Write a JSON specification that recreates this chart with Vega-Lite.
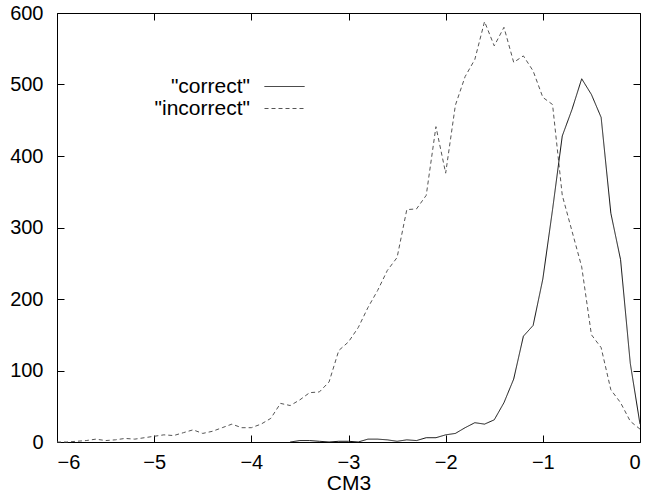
{
  "$schema": "https://vega.github.io/schema/vega-lite/v6.json",
  "width": 583,
  "height": 429,
  "autosize": "none",
  "padding": {"left": 57, "top": 13, "right": 5, "bottom": 55},
  "background": "white",
  "config": {
    "view": {"stroke": "black", "strokeWidth": 1},
    "font": "Liberation Sans",
    "axis": {"grid": false, "domain": false, "tickColor": "black", "tickSize": -7, "tickWidth": 1, "labelColor": "black", "labelFont": "Liberation Sans", "labelFontSize": 20, "titleFont": "Liberation Sans", "titleFontSize": 21, "titleFontWeight": "normal", "titleColor": "black"},
    "legend": {"orient": "none", "legendX": 217, "legendY": 63, "title": null, "symbolType": "M-4,0H4", "symbolSize": 100, "symbolStrokeWidth": 1, "rowPadding": 0, "labelAlign": "right", "labelOffset": -45, "labelFontSize": 21, "labelFont": "Liberation Sans", "labelColor": "black", "labelLimit": 0, "padding": 0}
  },
  "data": {
    "values": [
      {"x": -6.0, "n": 0, "s": "\"incorrect\""}, {"x": -5.9, "n": 0, "s": "\"incorrect\""}, {"x": -5.8, "n": 1, "s": "\"incorrect\""}, {"x": -5.7, "n": 2, "s": "\"incorrect\""}, {"x": -5.6, "n": 4, "s": "\"incorrect\""}, {"x": -5.5, "n": 2, "s": "\"incorrect\""}, {"x": -5.4, "n": 3, "s": "\"incorrect\""}, {"x": -5.3, "n": 5, "s": "\"incorrect\""}, {"x": -5.2, "n": 4, "s": "\"incorrect\""}, {"x": -5.1, "n": 6, "s": "\"incorrect\""},
      {"x": -5.0, "n": 8, "s": "\"incorrect\""}, {"x": -4.9, "n": 10, "s": "\"incorrect\""}, {"x": -4.8, "n": 9, "s": "\"incorrect\""}, {"x": -4.7, "n": 13, "s": "\"incorrect\""}, {"x": -4.6, "n": 17, "s": "\"incorrect\""}, {"x": -4.5, "n": 12, "s": "\"incorrect\""}, {"x": -4.4, "n": 15, "s": "\"incorrect\""}, {"x": -4.3, "n": 20, "s": "\"incorrect\""}, {"x": -4.2, "n": 25, "s": "\"incorrect\""}, {"x": -4.1, "n": 20, "s": "\"incorrect\""},
      {"x": -4.0, "n": 20, "s": "\"incorrect\""}, {"x": -3.9, "n": 25, "s": "\"incorrect\""}, {"x": -3.8, "n": 33, "s": "\"incorrect\""}, {"x": -3.7, "n": 54, "s": "\"incorrect\""}, {"x": -3.6, "n": 51, "s": "\"incorrect\""}, {"x": -3.5, "n": 59, "s": "\"incorrect\""}, {"x": -3.4, "n": 69, "s": "\"incorrect\""}, {"x": -3.3, "n": 70, "s": "\"incorrect\""}, {"x": -3.2, "n": 84, "s": "\"incorrect\""}, {"x": -3.1, "n": 128, "s": "\"incorrect\""},
      {"x": -3.0, "n": 140, "s": "\"incorrect\""}, {"x": -2.9, "n": 160, "s": "\"incorrect\""}, {"x": -2.8, "n": 188, "s": "\"incorrect\""}, {"x": -2.7, "n": 212, "s": "\"incorrect\""}, {"x": -2.6, "n": 240, "s": "\"incorrect\""}, {"x": -2.5, "n": 258, "s": "\"incorrect\""}, {"x": -2.4, "n": 325, "s": "\"incorrect\""}, {"x": -2.3, "n": 326, "s": "\"incorrect\""}, {"x": -2.2, "n": 345, "s": "\"incorrect\""}, {"x": -2.1, "n": 441, "s": "\"incorrect\""},
      {"x": -2.0, "n": 376, "s": "\"incorrect\""}, {"x": -1.9, "n": 471, "s": "\"incorrect\""}, {"x": -1.8, "n": 511, "s": "\"incorrect\""}, {"x": -1.7, "n": 535, "s": "\"incorrect\""}, {"x": -1.6, "n": 588, "s": "\"incorrect\""}, {"x": -1.5, "n": 554, "s": "\"incorrect\""}, {"x": -1.4, "n": 580, "s": "\"incorrect\""}, {"x": -1.3, "n": 531, "s": "\"incorrect\""}, {"x": -1.2, "n": 540, "s": "\"incorrect\""}, {"x": -1.1, "n": 519, "s": "\"incorrect\""},
      {"x": -1.0, "n": 482, "s": "\"incorrect\""}, {"x": -0.9, "n": 472, "s": "\"incorrect\""}, {"x": -0.8, "n": 345, "s": "\"incorrect\""}, {"x": -0.7, "n": 295, "s": "\"incorrect\""}, {"x": -0.6, "n": 245, "s": "\"incorrect\""}, {"x": -0.5, "n": 150, "s": "\"incorrect\""}, {"x": -0.4, "n": 132, "s": "\"incorrect\""}, {"x": -0.3, "n": 73, "s": "\"incorrect\""}, {"x": -0.2, "n": 55, "s": "\"incorrect\""}, {"x": -0.1, "n": 29, "s": "\"incorrect\""}, {"x": 0.0, "n": 18, "s": "\"incorrect\""},
      {"x": -3.6, "n": 0, "s": "\"correct\""}, {"x": -3.5, "n": 2, "s": "\"correct\""}, {"x": -3.4, "n": 2, "s": "\"correct\""}, {"x": -3.3, "n": 1, "s": "\"correct\""}, {"x": -3.2, "n": 0, "s": "\"correct\""}, {"x": -3.1, "n": 1, "s": "\"correct\""}, {"x": -3.0, "n": 1, "s": "\"correct\""}, {"x": -2.9, "n": 0, "s": "\"correct\""}, {"x": -2.8, "n": 4, "s": "\"correct\""}, {"x": -2.7, "n": 4, "s": "\"correct\""},
      {"x": -2.6, "n": 3, "s": "\"correct\""}, {"x": -2.5, "n": 1, "s": "\"correct\""}, {"x": -2.4, "n": 3, "s": "\"correct\""}, {"x": -2.3, "n": 2, "s": "\"correct\""}, {"x": -2.2, "n": 6, "s": "\"correct\""}, {"x": -2.1, "n": 6, "s": "\"correct\""}, {"x": -2.0, "n": 10, "s": "\"correct\""}, {"x": -1.9, "n": 12, "s": "\"correct\""}, {"x": -1.8, "n": 20, "s": "\"correct\""}, {"x": -1.7, "n": 27, "s": "\"correct\""},
      {"x": -1.6, "n": 25, "s": "\"correct\""}, {"x": -1.5, "n": 31, "s": "\"correct\""}, {"x": -1.4, "n": 55, "s": "\"correct\""}, {"x": -1.3, "n": 88, "s": "\"correct\""}, {"x": -1.2, "n": 148, "s": "\"correct\""}, {"x": -1.1, "n": 163, "s": "\"correct\""}, {"x": -1.0, "n": 228, "s": "\"correct\""}, {"x": -0.9, "n": 325, "s": "\"correct\""}, {"x": -0.8, "n": 428, "s": "\"correct\""}, {"x": -0.7, "n": 465, "s": "\"correct\""},
      {"x": -0.6, "n": 508, "s": "\"correct\""}, {"x": -0.5, "n": 486, "s": "\"correct\""}, {"x": -0.4, "n": 454, "s": "\"correct\""}, {"x": -0.3, "n": 320, "s": "\"correct\""}, {"x": -0.2, "n": 255, "s": "\"correct\""}, {"x": -0.1, "n": 110, "s": "\"correct\""}, {"x": 0.0, "n": 25, "s": "\"correct\""}
    ]
  },
  "layer": [
    {
      "mark": {"type": "line", "strokeWidth": 1},
      "encoding": {
        "x": {"field": "x", "type": "quantitative", "scale": {"domain": [-6, 0], "nice": false, "zero": false}, "axis": {"orient": "bottom", "values": [-6, -5, -4, -3, -2, -1, 0], "title": "CM3", "labelPadding": 17, "titlePadding": 0}},
        "y": {"field": "n", "type": "quantitative", "scale": {"domain": [0, 600], "nice": false}, "axis": {"orient": "left", "values": [0, 100, 200, 300, 400, 500, 600], "title": null, "labelPadding": 21}},
        "color": {"field": "s", "type": "nominal", "scale": {"domain": ["\"correct\"", "\"incorrect\""], "range": ["#111111", "#555555"]}},
        "strokeDash": {"field": "s", "type": "nominal", "scale": {"domain": ["\"correct\"", "\"incorrect\""], "range": [[1, 0], [4, 3]]}}
      }
    },
    {
      "mark": {"type": "line", "opacity": 0},
      "encoding": {
        "x": {"field": "x", "type": "quantitative", "axis": {"orient": "top", "values": [-6, -5, -4, -3, -2, -1, 0], "labels": false, "title": null}},
        "y": {"field": "n", "type": "quantitative", "axis": {"orient": "right", "values": [0, 100, 200, 300, 400, 500, 600], "labels": false, "title": null}}
      }
    }
  ],
  "resolve": {"axis": {"x": "independent", "y": "independent"}}
}
